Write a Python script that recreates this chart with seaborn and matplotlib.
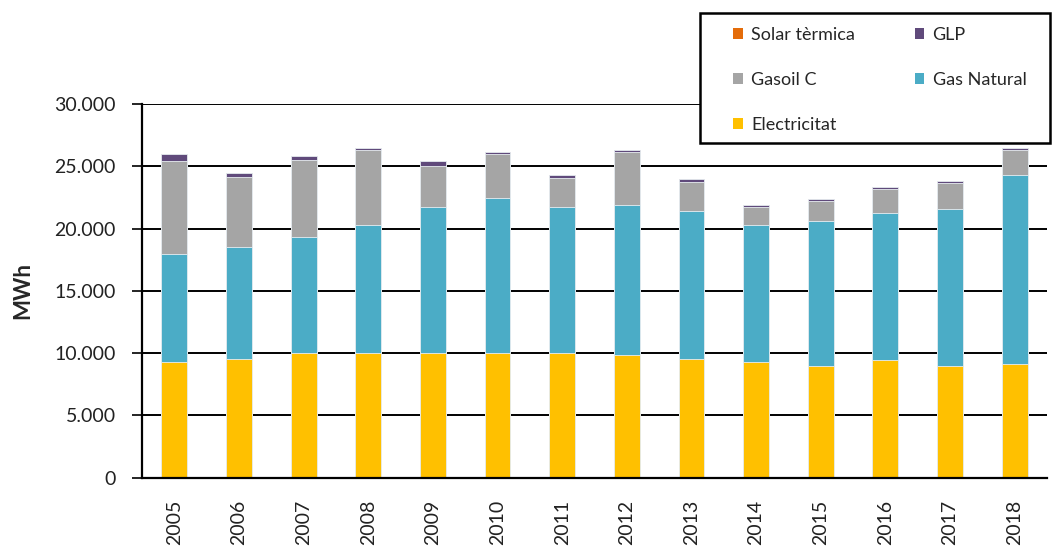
import numpy as np
import pandas as pd
import matplotlib
matplotlib.use("Agg")
import matplotlib.pyplot as plt
from matplotlib.patches import Patch, Rectangle
import seaborn as sns

years = ["2005", "2006", "2007", "2008", "2009", "2010", "2011",
         "2012", "2013", "2014", "2015", "2016", "2017", "2018"]
electricitat = [9270, 9560, 10000, 10000, 10000, 10000, 10000,
                9880, 9560, 9270, 8950, 9430, 8950, 9110]
gas_natural = [8670, 8990, 9350, 10320, 11740, 12480, 11740,
               12020, 11860, 11020, 11660, 11850, 12630, 15170]
gasoil_c = [7470, 5570, 6190, 5990, 3310, 3540, 2350,
            4250, 2350, 1460, 1610, 1880, 2060, 2030]
glp = [610, 320, 320, 190, 360, 160, 220,
       160, 220, 150, 160, 180, 160, 160]
solar_termica = [0, 0, 0, 0, 0, 0, 0, 0, 0, 0, 0, 0, 0, 0]

series_names = ["Electricitat", "Gas Natural", "Gasoil C", "GLP", "Solar tèrmica"]
series_vals = [electricitat, gas_natural, gasoil_c, glp, solar_termica]
colors = {"Electricitat": "#FFC000", "Gas Natural": "#4BACC6",
          "Gasoil C": "#A5A5A5", "GLP": "#604A7B", "Solar tèrmica": "#E46C0A"}

sns.set_style("white")
plt.rcParams["font.family"] = ["Lato", "DejaVu Sans"]

W, H = 1054, 546
fig = plt.figure(figsize=(W / 100, H / 100), dpi=100)
ax = fig.add_axes([142 / W, 1 - 477.7 / H, (1047 - 142) / W, (477.7 - 104) / H])

cum = np.cumsum(np.array(series_vals, dtype=float), axis=0)
# draw from top layer down so lower layers overlay
for i in range(len(series_names) - 1, -1, -1):
    df = pd.DataFrame({"year": years, "value": cum[i]})
    sns.barplot(data=df, x="year", y="value", color=colors[series_names[i]],
                width=0.4, edgecolor="#e8eef2", linewidth=0.6,
                saturation=1, ax=ax, zorder=2)

ax.set_xlim(-0.5, len(years) - 0.5)
ax.set_ylim(0, 30000)
yt = np.arange(0, 30001, 5000)
ax.set_yticks(yt)
ax.set_yticklabels(["0"] + [f"{v // 1000}.000" for v in yt[1:]], fontsize=14, color="#222222")
ax.yaxis.grid(True, color="black", linewidth=1.4, zorder=0)
ax.xaxis.grid(False)
ax.set_axisbelow(True)

ax.set_xticks(range(len(years)))
ax.set_xticklabels(years, rotation=90, fontsize=14, color="#222222")
ax.set_xticks(np.arange(-0.5, len(years), 1.0), minor=True)
ax.tick_params(axis="x", which="major", length=0, pad=16)
ax.tick_params(axis="x", which="minor", length=7, width=1.2, color="black", direction="out")
ax.tick_params(axis="y", which="major", length=7, width=1.2, color="black", direction="out", left=True, pad=12)

for s in ["top", "right"]:
    ax.spines[s].set_visible(False)
for s in ["left", "bottom"]:
    ax.spines[s].set_color("black")
    ax.spines[s].set_linewidth(1.6)

ax.set_xlabel("")
ax.set_ylabel("MWh", fontsize=16, fontweight="bold", labelpad=15)

# legend box
box = Rectangle((700 / W, 1 - 143 / H), 350 / W, 130 / H, transform=fig.transFigure,
                facecolor="white", edgecolor="black", linewidth=1.8, zorder=5)
fig.patches.append(box)

handles = [Patch(facecolor=colors[n], edgecolor="none") for n in
           ["Solar tèrmica", "Gasoil C", "Electricitat", "GLP", "Gas Natural"]]
labels = ["Solar tèrmica", "Gasoil C", "Electricitat", "GLP", "Gas Natural"]
leg = fig.legend(handles, labels, loc="upper left",
                 bbox_to_anchor=(733 / W, 1 - 27 / H),
                 ncol=2, fontsize=13, frameon=False,
                 handlelength=0.55, handleheight=0.55,
                 handletextpad=0.45, labelspacing=1.6, borderpad=0,
                 borderaxespad=0, columnspacing=3.3)
leg.set_zorder(10)

fig.savefig("out.png", dpi=100, facecolor="white")
